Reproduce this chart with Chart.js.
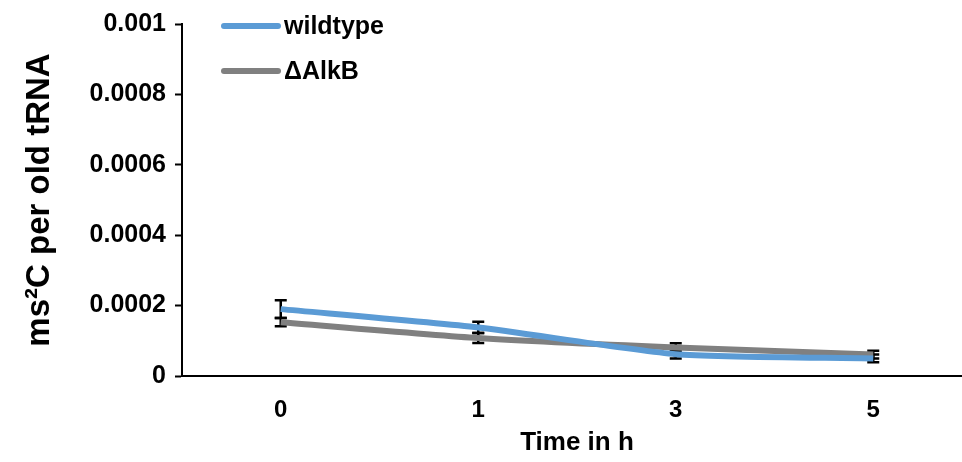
<!DOCTYPE html>
<html>
<head>
<meta charset="utf-8">
<script src="https://cdn.jsdelivr.net/npm/chart.js@4.4.0/dist/chart.umd.min.js"></script>
<style>
    html, body { margin: 0; padding: 0; background: #fff; overflow: hidden; }
    #wrap { width: 972px; height: 462px; }
</style>
</head>
<body>
<div id="wrap"><canvas id="myChart"></canvas></div>
<script>
// x categories (time in h)
var times = ["0", "1", "3", "5"];
// y tick labels
var yTicks = ["0", "0.0002", "0.0004", "0.0006", "0.0008", "0.001"];
// series values
var wildtype = [0.000190, 0.000138, 0.000062, 0.000050];
var wildtypeErr = [0.000025, 0.000016, 0.000012, 0.000011];
var alkb = [0.000153, 0.000108, 0.000081, 0.000061];
var alkbErr = [0.000012, 0.000014, 0.000012, 0.000011];

var FONT = "'Liberation Sans', Arial, sans-serif";

// error bars, drawn under the lines
var errorBars = {
    id: "errorBars",
    beforeDatasetsDraw: function (chart) {
        var c = chart.ctx;
        var x = chart.scales.x, y = chart.scales.y;
        c.save();
        c.strokeStyle = "#000";
        c.lineWidth = 2.5;
        chart.data.datasets.forEach(function (ds) {
            ds.data.forEach(function (v, i) {
                var px = x.getPixelForValue(i);
                var top = y.getPixelForValue(v + ds.err[i]);
                var bot = y.getPixelForValue(v - ds.err[i]);
                c.beginPath();
                c.moveTo(px, top); c.lineTo(px, bot);
                c.moveTo(px - 6, top); c.lineTo(px + 6, top);
                c.moveTo(px - 6, bot); c.lineTo(px + 6, bot);
                c.stroke();
            });
        });
        c.restore();
    }
};

// legend inside the plot, top left
var innerLegend = {
    id: "innerLegend",
    afterDraw: function (chart) {
        var c = chart.ctx;
        c.save();
        c.font = "bold 25px " + FONT;
        c.textBaseline = "middle";
        chart.data.datasets.forEach(function (ds, i) {
            var ly = 26 + i * 45;
            c.strokeStyle = ds.borderColor;
            c.lineWidth = 6;
            c.lineCap = "round";
            c.beginPath();
            c.moveTo(224, ly); c.lineTo(278, ly);
            c.stroke();
            c.fillStyle = "#000";
            c.fillText(ds.label, 284, ly + 1);
        });
        c.restore();
    }
};

var ctx = document.getElementById("myChart");
var myChart = new Chart(ctx, {
    type: "line",
    data: {
        labels: times,
        datasets: [
            {
                label: "wildtype",
                data: wildtype,
                err: wildtypeErr,
                borderColor: "#5B9BD5",
                borderWidth: 6,
                pointRadius: 0,
                tension: 0.2,
                fill: false
            },
            {
                label: "\u0394AlkB",
                data: alkb,
                err: alkbErr,
                borderColor: "#808080",
                borderWidth: 6,
                pointRadius: 0,
                tension: 0.2,
                fill: false
            }
        ]
    },
    options: {
        responsive: true,
        maintainAspectRatio: false,
        animation: false,
        layout: { padding: { top: 20, right: 0, left: 0, bottom: 0 } },
        plugins: {
            legend: { display: false },
            tooltip: { enabled: false }
        },
        scales: {
            x: {
                offset: true,
                grid: { display: false, drawTicks: false },
                border: { color: "#000", width: 2 },
                ticks: { color: "#000", font: { family: FONT, size: 24, weight: "bold" }, padding: 20 },
                title: {
                    display: true,
                    text: "Time in h",
                    color: "#000",
                    font: { family: FONT, size: 26, weight: "bold" },
                    padding: { top: 2 }
                },
                afterFit: function (s) { s.height = 86; }
            },
            y: {
                min: 0,
                max: 0.001,
                grid: {
                    display: true,
                    drawOnChartArea: false,
                    drawTicks: true,
                    tickLength: 7,
                    tickColor: "#000",
                    tickWidth: 2
                },
                border: { color: "#000", width: 2 },
                ticks: {
                    stepSize: 0.0002,
                    color: "#000",
                    padding: 9,
                    font: { family: FONT, size: 25, weight: "bold" },
                    callback: function (v, i) { return yTicks[i]; }
                },
                title: {
                    display: true,
                    text: "ms\u00B2C per old tRNA",
                    color: "#000",
                    font: { family: FONT, size: 33, weight: "bold" },
                    padding: { top: 20, bottom: 0 }
                },
                afterFit: function (s) { s.width = 182; }
            }
        }
    },
    plugins: [errorBars, innerLegend]
});
</script>
</body>
</html>
